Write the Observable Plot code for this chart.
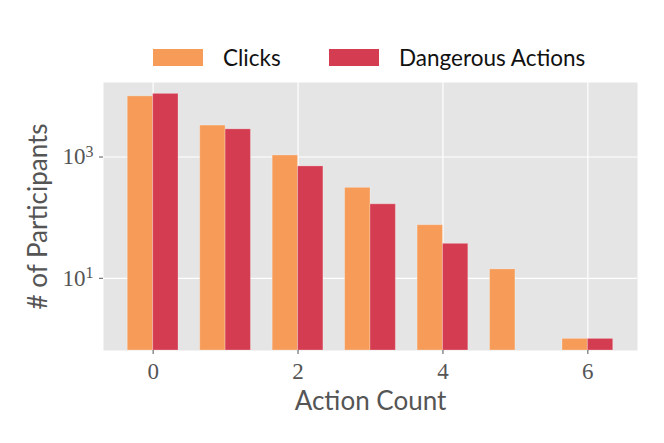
<!DOCTYPE html>
<html>
<head>
<meta charset="utf-8">
<script src="https://cdn.jsdelivr.net/npm/d3@7"></script>
<script src="https://cdn.jsdelivr.net/npm/@observablehq/plot@0.6"></script>
<style>
  html, body { margin: 0; padding: 0; background: #fff; }
  #wrap { position: relative; width: 664px; height: 443px; }
  #legend { position: absolute; left: 0; top: 0; width: 664px; height: 80px; font-family: Lato, "Open Sans", sans-serif; font-size: 22.5px; color: #111; }
  .sw { position: absolute; width: 50px; height: 17px; box-sizing: border-box; }
  .lt { position: absolute; line-height: 1; }
</style>
</head>
<body>
<div id="wrap">
  <div id="chart"></div>
  <div id="legend"></div>
</div>
<script>
// Data
const actionCounts = [0, 1, 2, 3, 4, 5, 6];
const clicks = [10000, 3300, 1060, 310, 75, 14, 1];
const dangerousActions = [11000, 2860, 700, 166, 37, 0, 1];
const seriesNames = ["Clicks", "Dangerous Actions"];
const seriesColors = ["#F69C58", "#D43D51"];
const xTicks = [0, 2, 4, 6];
const yTicks = [10, 1000];

const barWidth = 0.35;
const yDomain = [0.644, 16950];

const rows = [];
actionCounts.forEach((c, i) => {
  rows.push({count: c, series: seriesNames[0], offset: -0.5, value: clicks[i]});
  rows.push({count: c, series: seriesNames[1], offset: 0.5, value: dangerousActions[i]});
});
const bars = rows.filter(d => d.value > 0);

const chart = Plot.plot({
  width: 664,
  height: 443,
  marginLeft: 103,
  marginRight: 27,
  marginTop: 82,
  marginBottom: 93,
  style: {background: "transparent", overflow: "visible"},
  x: {domain: [-0.685, 6.685], ticks: xTicks},
  y: {type: "log", domain: yDomain, ticks: yTicks},
  color: {domain: seriesNames, range: seriesColors},
  marks: [
    Plot.frame({fill: "#E5E5E5", stroke: null}),
    Plot.gridX(xTicks, {stroke: "#fff", strokeOpacity: 1, strokeWidth: 1.2}),
    Plot.gridY(yTicks, {stroke: "#fff", strokeOpacity: 1, strokeWidth: 1.2}),
    Plot.rect(bars, {
      x1: d => d.count + (d.offset - 0.5) * barWidth,
      x2: d => d.count + (d.offset + 0.5) * barWidth,
      y1: () => yDomain[0],
      y2: "value",
      fill: "series",
      stroke: "#fff",
      strokeOpacity: 0.25,
      strokeWidth: 1
    }),
    Plot.axisX(xTicks, {tickSize: 4, tickPadding: 8, stroke: "#555", fill: "#555", label: null,
      fontSize: 23, fontFamily: "'Liberation Serif', 'DejaVu Serif', serif", tickFormat: d => String(d)}),
    Plot.axisY(yTicks, {tickSize: 4, tickPadding: 6, stroke: "#555", fill: "#555", label: null,
      fontSize: 23, fontFamily: "'Liberation Serif', 'DejaVu Serif', serif",
      tickFormat: d => "10^" + Math.round(Math.log10(d))}),
    Plot.text(["Action Count"], {frameAnchor: "bottom", dy: 51, text: d => d, fill: "#555",
      fontSize: 26, fontFamily: "Lato, 'Open Sans', sans-serif", lineAnchor: "middle", textAnchor: "middle"}),
    Plot.text(["# of Participants"], {frameAnchor: "left", dx: -65, rotate: -90, text: d => d, fill: "#555",
      fontSize: 26, fontFamily: "Lato, 'Open Sans', sans-serif", lineAnchor: "middle", textAnchor: "middle"})
  ]
});

// Render exponent as superscript
d3.select(chart).selectAll("g[aria-label='y-axis tick label'] text").each(function() {
  const t = d3.select(this);
  const s = t.text();
  if (!s.includes("^")) return;
  const [base, exp] = s.split("^");
  t.text(null);
  t.append("tspan").text(base);
  t.append("tspan").attr("dy", "-0.45em").attr("font-size", "16").text(exp);
});

document.getElementById("chart").appendChild(chart);

// Legend
const legend = document.getElementById("legend");
const legendItems = [
  {x: 153, tx: 223},
  {x: 329, tx: 399}
];
seriesNames.forEach((name, i) => {
  const sw = document.createElement("div");
  sw.className = "sw";
  sw.style.left = legendItems[i].x + "px";
  sw.style.top = "49px";
  sw.style.background = seriesColors[i];
  legend.appendChild(sw);
  const lt = document.createElement("div");
  lt.className = "lt";
  lt.style.left = legendItems[i].tx + "px";
  lt.style.top = "47px";
  lt.textContent = name;
  legend.appendChild(lt);
});
</script>
</body>
</html>
